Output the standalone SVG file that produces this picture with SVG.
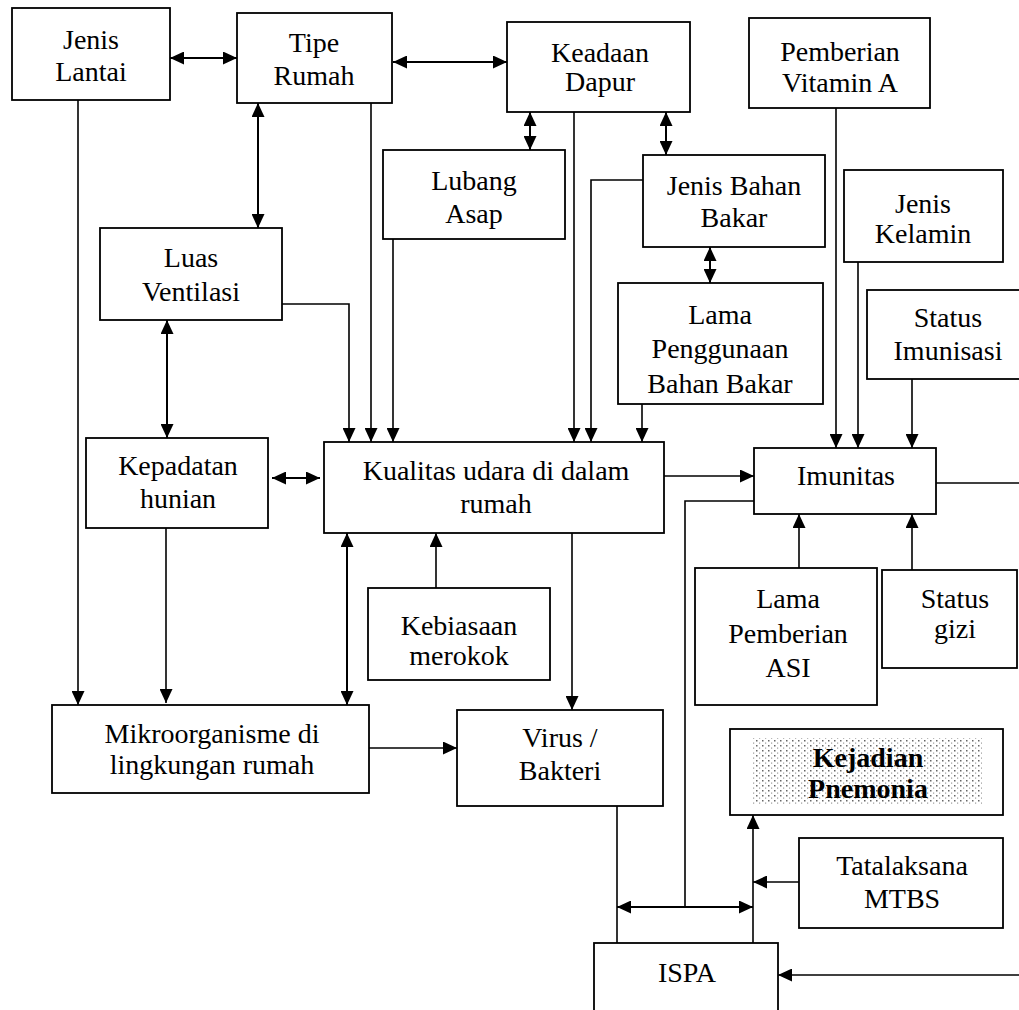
<svg xmlns="http://www.w3.org/2000/svg" width="1019" height="1010" viewBox="0 0 1019 1010">
<style>
.box{fill:#fff;stroke:#000;stroke-width:1.8}
.t{font-family:"Liberation Serif","Times New Roman",serif;font-size:28px;fill:#000;text-anchor:middle}
.b{font-weight:bold}
.c{fill:none;stroke:#000;stroke-width:1.6}
.e{marker-end:url(#ah)}
.d{marker-start:url(#ah);marker-end:url(#ah);stroke-width:2}
</style>
<defs>
<marker id="ah" viewBox="0 0 14 13" refX="14" refY="6.5" markerWidth="14" markerHeight="13" markerUnits="userSpaceOnUse" orient="auto-start-reverse"><path d="M0,0 L14,6.5 L0,13 z" fill="#000"/></marker>
<pattern id="dots" width="6" height="5" patternUnits="userSpaceOnUse"><rect width="6" height="5" fill="#fff"/><rect x="0" y="0" width="1.5" height="1.5" fill="#666"/><rect x="3" y="2.5" width="1.2" height="1.2" fill="#999"/></pattern>
</defs>
<rect width="1019" height="1010" fill="#fff"/>

<g id="connectors">
<path class="c d" d="M170,58 H237"/>
<path class="c d" d="M393,62 H507"/>
<path class="c d" d="M258,103 V228"/>
<path class="c d" d="M530,112 V150"/>
<path class="c d" d="M666,112 V155"/>
<path class="c e" d="M574,112 V442"/>
<path class="c e" d="M643,180 H591 V442"/>
<path class="c d" d="M710,247 V283"/>
<path class="c e" d="M642,404 V442"/>
<path class="c e" d="M371,103 V442"/>
<path class="c e" d="M393,239 V442"/>
<path class="c e" d="M282,304 H349 V442"/>
<path class="c e" d="M78,100 V705"/>
<path class="c d" d="M167,320 V438"/>
<path class="c d" d="M272,478 H320"/>
<path class="c e" d="M166,528 V703"/>
<path class="c d" d="M347,533 V705"/>
<path class="c e" d="M436,588 V533"/>
<path class="c e" d="M572,533 V710"/>
<path class="c e" d="M369,748 H457"/>
<path class="c e" d="M664,476 H754"/>
<path class="c e" d="M836,108 V448"/>
<path class="c e" d="M858,262 V448"/>
<path class="c e" d="M912,379 V448"/>
<path class="c e" d="M799,568 V514"/>
<path class="c e" d="M912,570 V514"/>
<path class="c" d="M936,483 H1019"/>
<path class="c" d="M754,501 H685 V907"/>
<path class="c" d="M617,806 V943"/>
<path class="c d" d="M617,907 H753"/>
<path class="c e" d="M753,943 V815"/>
<path class="c e" d="M799,882 H753"/>
<path class="c e" d="M1019,975 H778"/>
</g>

<g id="jenis-lantai"><rect class="box" x="12" y="8" width="158" height="92"/><text class="t" x="91" y="49">Jenis</text><text class="t" x="91" y="81">Lantai</text></g>
<g id="tipe-rumah"><rect class="box" x="237" y="13" width="155" height="90"/><text class="t" x="314" y="52">Tipe</text><text class="t" x="314" y="85">Rumah</text></g>
<g id="keadaan-dapur"><rect class="box" x="507" y="22" width="183" height="90"/><text class="t" x="600" y="62">Keadaan</text><text class="t" x="600" y="91">Dapur</text></g>
<g id="pemberian-vitamin-a"><rect class="box" x="749" y="18" width="181" height="90"/><text class="t" x="840" y="61">Pemberian</text><text class="t" x="840" y="92">Vitamin A</text></g>
<g id="lubang-asap"><rect class="box" x="383" y="150" width="182" height="89"/><text class="t" x="474" y="190">Lubang</text><text class="t" x="474" y="223">Asap</text></g>
<g id="jenis-bahan-bakar"><rect class="box" x="643" y="155" width="182" height="92"/><text class="t" x="734" y="195">Jenis Bahan</text><text class="t" x="734" y="227">Bakar</text></g>
<g id="jenis-kelamin"><rect class="box" x="844" y="170" width="159" height="92"/><text class="t" x="923" y="213">Jenis</text><text class="t" x="923" y="243">Kelamin</text></g>
<g id="luas-ventilasi"><rect class="box" x="100" y="228" width="182" height="92"/><text class="t" x="191" y="267">Luas</text><text class="t" x="191" y="301">Ventilasi</text></g>
<g id="lama-penggunaan"><rect class="box" x="618" y="283" width="205" height="121"/><text class="t" x="720" y="324">Lama</text><text class="t" x="720" y="358">Penggunaan</text><text class="t" x="720" y="393">Bahan Bakar</text></g>
<g id="status-imunisasi"><rect class="box" x="867" y="290" width="162" height="89"/><text class="t" x="948" y="327">Status</text><text class="t" x="948" y="360">Imunisasi</text></g>
<g id="kepadatan-hunian"><rect class="box" x="86" y="438" width="182" height="90"/><text class="t" x="178" y="475">Kepadatan</text><text class="t" x="178" y="508">hunian</text></g>
<g id="kualitas-udara"><rect class="box" x="324" y="442" width="340" height="91"/><text class="t" x="496" y="480">Kualitas udara di dalam</text><text class="t" x="496" y="513">rumah</text></g>
<g id="imunitas"><rect class="box" x="754" y="448" width="182" height="66"/><text class="t" x="846" y="485">Imunitas</text></g>
<g id="kebiasaan-merokok"><rect class="box" x="368" y="588" width="182" height="92"/><text class="t" x="459" y="635">Kebiasaan</text><text class="t" x="459" y="665">merokok</text></g>
<g id="lama-pemberian-asi"><rect class="box" x="695" y="568" width="182" height="137"/><text class="t" x="788" y="608">Lama</text><text class="t" x="788" y="643">Pemberian</text><text class="t" x="788" y="677">ASI</text></g>
<g id="status-gizi"><rect class="box" x="882" y="570" width="135" height="98"/><text class="t" x="955" y="608">Status</text><text class="t" x="955" y="638">gizi</text></g>
<g id="mikroorganisme"><rect class="box" x="52" y="705" width="317" height="88"/><text class="t" x="212" y="743">Mikroorganisme di</text><text class="t" x="212" y="774">lingkungan rumah</text></g>
<g id="virus-bakteri"><rect class="box" x="457" y="710" width="206" height="96"/><text class="t" x="560" y="747">Virus /</text><text class="t" x="560" y="780">Bakteri</text></g>
<g id="kejadian-pnemonia"><rect class="box" x="730" y="729" width="273" height="86"/><rect x="753" y="738" width="229" height="67" fill="url(#dots)"/><text class="t b" x="868" y="767">Kejadian</text><text class="t b" x="868" y="798">Pnemonia</text></g>
<g id="tatalaksana-mtbs"><rect class="box" x="799" y="838" width="204" height="90"/><text class="t" x="902" y="875">Tatalaksana</text><text class="t" x="902" y="908">MTBS</text></g>
<g id="ispa"><rect class="box" x="594" y="943" width="184" height="80"/><text class="t" x="687" y="982">ISPA</text></g>
</svg>
